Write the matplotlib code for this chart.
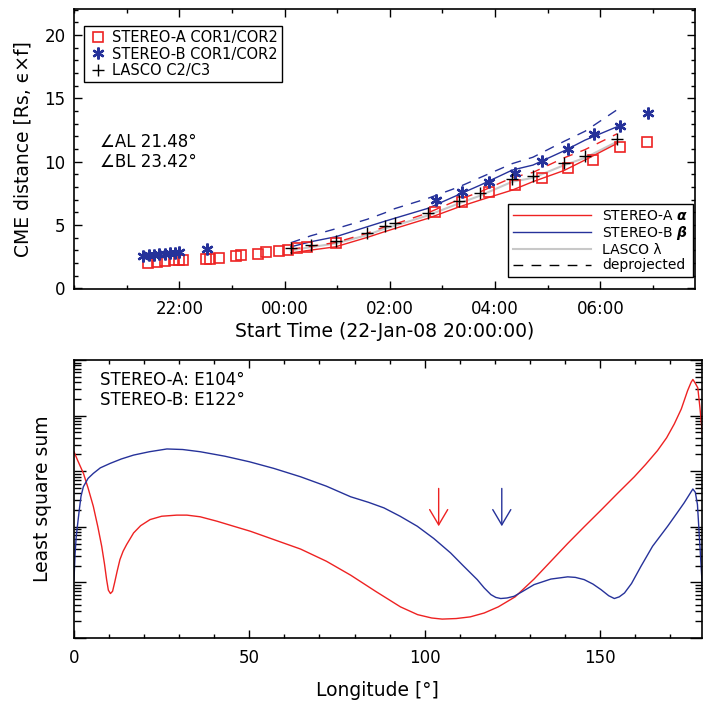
import numpy as np
import matplotlib
matplotlib.use('Agg')
import matplotlib.pyplot as plt
from matplotlib.ticker import MultipleLocator, FixedLocator, NullFormatter, LogLocator
from matplotlib.lines import Line2D

# ---------------- CME height-time data (hours after 2008-01-22 20:00 UT) ----------------
a_hr = [1.40, 1.57, 1.73, 1.90, 2.00, 2.08, 2.50, 2.58, 2.75, 3.07, 3.17, 3.49, 3.65,
        3.90, 4.07, 4.24, 4.43, 4.98, 6.86, 7.38, 7.89, 8.38, 8.89, 9.38, 9.87, 10.38, 10.89]
a_dist = [1.97, 2.10, 2.18, 2.23, 2.23, 2.23, 2.31, 2.31, 2.42, 2.58, 2.63, 2.73, 2.89,
          2.94, 3.05, 3.16, 3.26, 3.55, 6.02, 6.84, 7.58, 8.12, 8.74, 9.50, 10.13, 11.18, 11.57]

b_hr = [1.32, 1.42, 1.52, 1.62, 1.72, 1.82, 1.92, 2.00, 2.52, 6.88, 7.38, 7.89, 8.38,
        8.89, 9.38, 9.89, 10.38, 10.90]
b_dist = [2.55, 2.60, 2.65, 2.70, 2.72, 2.76, 2.80, 2.85, 3.10, 6.95, 7.63, 8.42, 9.08,
          10.02, 10.97, 12.17, 12.83, 13.86]

lasco_hr = [4.12, 4.50, 4.97, 5.57, 5.90, 6.10, 6.72, 7.31, 7.72, 8.33, 8.72, 9.31, 9.71, 10.32]
lasco_dist = [3.16, 3.40, 3.70, 4.37, 4.95, 5.12, 5.92, 6.90, 7.50, 8.62, 8.90, 9.92, 10.45, 11.76]

# distances projected with each spacecraft angle, at the LASCO times
fit_a = [2.80, 3.02, 3.28, 4.02, 4.47, 4.73, 5.52, 6.42, 6.97, 7.76, 8.42, 9.30, 10.13, 11.44]
fit_b = [3.28, 3.68, 4.07, 4.86, 5.29, 5.54, 6.31, 7.40, 8.15, 9.34, 9.73, 10.85, 11.70, 12.76]
fit_lasco = [3.00, 3.25, 3.55, 4.20, 4.72, 4.95, 5.75, 6.70, 7.32, 8.42, 8.72, 9.72, 10.30, 11.58]
dep_a = [3.08, 3.32, 3.62, 4.35, 4.85, 5.08, 5.95, 7.00, 7.62, 8.75, 9.15, 10.30, 10.95, 12.20]
dep_b = [3.60, 4.15, 4.70, 5.45, 5.95, 6.30, 7.10, 8.00, 8.75, 9.85, 10.35, 11.60, 12.40, 14.10]

time_ticks = [2, 4, 6, 8, 10]
time_labels = ['22:00', '00:00', '02:00', '04:00', '06:00']

angle_al = 21.48
angle_bl = 23.42

# ---------------- least-square sum versus longitude (log10 of the sum) ----------------
lon_a = [0, 1.0, 2.7, 4.0, 5.5, 6.8, 7.9, 8.7, 9.3, 9.8, 10.4, 11.0, 11.6, 12.3, 13.1, 14.0,
         15.0, 17.0, 19.0, 21.7, 25.0, 29.3, 32.2, 36.0, 40.8, 45.0, 50.3, 57.0, 64.6,
         72.0, 78.9, 86.0, 93.1, 98.0, 102.0, 105.0, 109.0, 113.0, 117.0, 121.0, 125.8,
         131.2, 136.0, 140.8, 145.5, 150.3, 155.0, 159.8, 163.0, 166.4, 169.0, 171.2, 173.2,
         175.0, 176.0, 176.5, 177.2, 177.9, 178.5, 179.1, 179.6]
lsq_a_log = [3.35, 3.20, 2.96, 2.70, 2.37, 2.00, 1.65, 1.33, 1.05, 0.86, 0.80, 0.84, 1.00,
             1.20, 1.41, 1.56, 1.68, 1.89, 2.02, 2.13, 2.19, 2.21, 2.21, 2.18, 2.10, 2.02,
             1.92, 1.77, 1.60, 1.38, 1.13, 0.84, 0.56, 0.42, 0.36, 0.34, 0.35, 0.38, 0.45,
             0.56, 0.74, 1.06, 1.38, 1.70, 2.00, 2.30, 2.60, 2.90, 3.12, 3.37, 3.60, 3.85,
             4.12, 4.45, 4.60, 4.65, 4.58, 4.50, 4.15, 3.75, 3.43]

lon_b = [0, 0.3, 0.6, 0.95, 1.5, 2.0, 2.67, 4.0, 5.5, 7.5, 10.3, 13.5, 17.0, 21.5, 26.5,
         31.0, 36.0, 43.0, 50.0, 57.0, 64.6, 72.0, 78.9, 84.0, 88.4, 93.0, 97.9, 102.6,
         107.4, 111.0, 115.0, 117.0, 118.9, 120.3, 121.7, 123.5, 125.5, 128.0, 131.2, 136.0,
         140.8, 143.0, 145.5, 148.0, 150.3, 152.5, 154.1, 155.5, 157.0, 159.0, 161.7, 165.0,
         169.3, 172.0, 174.0, 175.5, 176.5, 177.2, 177.8, 178.4, 179.3]
lsq_b_log = [1.05, 1.50, 1.80, 2.00, 2.30, 2.55, 2.72, 2.87, 2.96, 3.06, 3.14, 3.22, 3.29,
             3.35, 3.40, 3.39, 3.35, 3.27, 3.17, 3.05, 2.90, 2.73, 2.54, 2.44, 2.34, 2.19,
             2.01, 1.79, 1.53, 1.30, 1.05, 0.90, 0.78, 0.73, 0.71, 0.72, 0.75, 0.84, 0.96,
             1.06, 1.10, 1.09, 1.05, 0.97, 0.87, 0.76, 0.71, 0.74, 0.81, 0.98, 1.29, 1.65,
             2.01, 2.25, 2.43, 2.58, 2.68, 2.62, 2.40, 1.77, 0.81]

best_lon_a = 104
best_lon_b = 122
arrow_from_log = 2.69
arrow_to_log = 2.01

# ---------------- styling ----------------
RED = '#ee2222'
BLUE = '#26329a'
GRAY = '#c8c8c8'
FONT = 'DejaVu Sans'
plt.rcParams['font.family'] = FONT
plt.rcParams['mathtext.fontset'] = 'dejavusans'

fig = plt.figure(figsize=(7.03, 7.06), dpi=100)
W, H = 703.0, 706.0


def frame(ax, ymaj=5.8, ymin=3.2, xmaj=5.8, xmin=3.2):
    for s in ax.spines.values():
        s.set_linewidth(1.2)
    ax.tick_params(which='both', direction='in', top=True, right=True, width=1.0)
    ax.tick_params(axis='y', which='major', length=ymaj)
    ax.tick_params(axis='y', which='minor', length=ymin)
    ax.tick_params(axis='x', which='major', length=xmaj)
    ax.tick_params(axis='x', which='minor', length=xmin)
    ax.tick_params(axis='x', which='major', labelsize=12, pad=8)
    ax.tick_params(axis='y', which='major', labelsize=12, pad=6)


# ======================= upper panel =======================
ax1 = fig.add_axes([74 / W, 1 - 289 / H, (695 - 74) / W, (289 - 9) / H])
dash = (0, (7, 6))
ax1.plot(lasco_hr, fit_lasco, color=GRAY, lw=1.5, zorder=2)
ax1.plot(lasco_hr, fit_a, color=RED, lw=1.0, zorder=3)
ax1.plot(lasco_hr, fit_b, color=BLUE, lw=1.0, zorder=3)
ax1.plot(lasco_hr, dep_a, color=RED, lw=1.0, ls=dash, zorder=3)
ax1.plot(lasco_hr, dep_b, color=BLUE, lw=1.0, ls=dash, zorder=3)

ax1.plot(a_hr, a_dist, ls='none', marker='s', ms=6.8, mfc='none', mec=RED, mew=1.2, zorder=4)
ax1.plot(b_hr, b_dist, ls='none', marker=(6, 2, 0), ms=8.5, mec=BLUE, mew=1.7, zorder=5)
ax1.plot(lasco_hr, lasco_dist, ls='none', marker='+', ms=8, mec='black', mew=1.0, zorder=6)

ax1.set_xlim(0, 11.8)
ax1.set_ylim(-0.05, 22.05)
ax1.xaxis.set_major_locator(FixedLocator(time_ticks))
ax1.set_xticklabels(time_labels)
ax1.xaxis.set_minor_locator(MultipleLocator(1))
ax1.yaxis.set_major_locator(MultipleLocator(5))
ax1.yaxis.set_minor_locator(MultipleLocator(1))
frame(ax1)
ax1.set_xlabel('Start Time (22-Jan-08 20:00:00)', fontsize=13.5, labelpad=3)
ax1.set_ylabel('CME distance [Rs, \u03f5\u00d7f]', fontsize=13.5, labelpad=9)

ax1.text(0.042, 0.526, '\u2220AL %.2f\u00b0' % angle_al, transform=ax1.transAxes,
         fontsize=12, va='center', ha='left')
ax1.text(0.042, 0.4536, '\u2220BL %.2f\u00b0' % angle_bl, transform=ax1.transAxes,
         fontsize=12, va='center', ha='left')

h_obs = [Line2D([], [], ls='none', marker='s', ms=6.8, mfc='none', mec=RED, mew=1.2),
         Line2D([], [], ls='none', marker=(6, 2, 0), ms=8.5, mec=BLUE, mew=1.7),
         Line2D([], [], ls='none', marker='+', ms=8, mec='black', mew=1.0)]
leg1 = ax1.legend(h_obs, ['STEREO-A COR1/COR2', 'STEREO-B COR1/COR2', 'LASCO C2/C3'],
                  loc='upper left', bbox_to_anchor=((84 - 74) / 621, 1 - (25.7 - 9) / 280),
                  borderaxespad=0, fontsize=10.5, frameon=True, fancybox=False,
                  edgecolor='black', framealpha=1, borderpad=0.3, handlelength=1.3,
                  handletextpad=0.3, labelspacing=0.1)
leg1.get_frame().set_linewidth(1.0)
ax1.add_artist(leg1)

h_fit = [Line2D([], [], color=RED, lw=1.0),
         Line2D([], [], color=BLUE, lw=1.0),
         Line2D([], [], color=GRAY, lw=1.5),
         Line2D([], [], color='black', lw=1.0, ls=dash)]
leg2 = ax1.legend(h_fit, [r'STEREO-A $\boldsymbol{\alpha}$', r'STEREO-B $\boldsymbol{\beta}$',
                          'LASCO \u03bb', 'deprojected'],
                  loc='lower right', bbox_to_anchor=((692.7 - 74) / 621, 1 - (277.3 - 9) / 280),
                  borderaxespad=0, fontsize=10, frameon=True, fancybox=False,
                  edgecolor='black', framealpha=1, borderpad=0.35, handlelength=5.6,
                  handletextpad=0.8, labelspacing=0.08)
leg2.get_frame().set_linewidth(1.0)

# ======================= lower panel =======================
ax2 = fig.add_axes([74 / W, 1 - 638 / H, (702 - 74) / W, (638 - 360) / H])
ax2.set_yscale('log')
ax2.plot(lon_a, np.power(10.0, lsq_a_log), color=RED, lw=1.0)
ax2.plot(lon_b, np.power(10.0, lsq_b_log), color=BLUE, lw=1.0)

for lon, col in ((best_lon_a, RED), (best_lon_b, BLUE)):
    ax2.annotate('', xy=(lon, 10 ** arrow_to_log), xytext=(lon, 10 ** arrow_from_log),
                 arrowprops=dict(arrowstyle='->,head_length=1.1,head_width=0.65',
                                 color=col, lw=1.0, shrinkA=0, shrinkB=0))

ax2.set_xlim(0, 179.1)
ax2.set_ylim(1, 1e5)
ax2.xaxis.set_major_locator(MultipleLocator(50))
ax2.xaxis.set_minor_locator(MultipleLocator(10))
ax2.yaxis.set_major_locator(LogLocator(base=10, numticks=10))
ax2.yaxis.set_minor_locator(LogLocator(base=10, subs=np.arange(2, 10), numticks=20))
ax2.yaxis.set_major_formatter(NullFormatter())
ax2.yaxis.set_minor_formatter(NullFormatter())
frame(ax2, ymaj=8.5, ymin=5.0)
ax2.set_xlabel('Longitude [\u00b0]', fontsize=13.5)
ax2.xaxis.set_label_coords((377 - 74) / 628, -0.155)
ax2.set_ylabel('Least square sum', fontsize=13.5, labelpad=10)

ax2.text(0.0414, 0.928, 'STEREO-A: E%d\u00b0' % best_lon_a, transform=ax2.transAxes,
         fontsize=12, va='center', ha='left')
ax2.text(0.0414, 0.856, 'STEREO-B: E%d\u00b0' % best_lon_b, transform=ax2.transAxes,
         fontsize=12, va='center', ha='left')

fig.savefig('out.png', dpi=100)
